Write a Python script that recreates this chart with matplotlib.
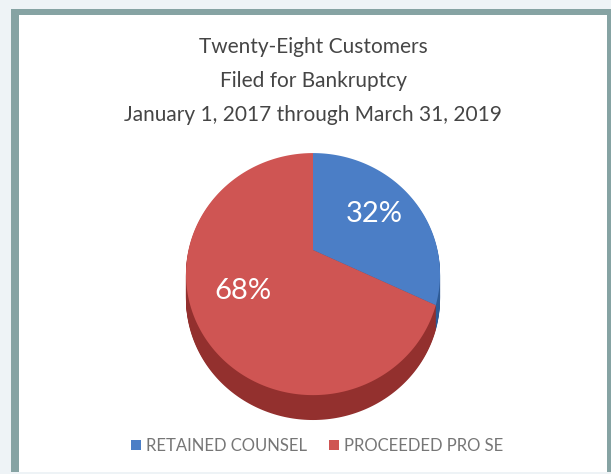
import numpy as np
import matplotlib.pyplot as plt
from matplotlib.patches import Rectangle
from matplotlib.path import Path
from matplotlib.transforms import Transform

# data: 28 customers split by representation
labels = ['RETAINED COUNSEL', 'PROCEEDED PRO SE']
counts = [9, 19]
colors = ['#4b7ec6', '#cf5553']
side_colors = ['#2e5b96', '#93302e']
title_lines = ['Twenty-Eight Customers', 'Filed for Bankruptcy',
               'January 1, 2017 through March 31, 2019']

W, H = 611, 474
plt.rcParams['font.family'] = ['Lato', 'DejaVu Sans']


class Tilt(Transform):
    """Perspective view of a flat disc, optionally pushed down by `drop`."""
    input_dims = output_dims = 2

    def __init__(self, drop=0.0, tilt=21, dist=1.8):
        super().__init__()
        self.drop = drop
        self.ca, self.sa = np.cos(np.radians(tilt)), np.sin(np.radians(tilt))
        self.dist = dist

    def transform_non_affine(self, values):
        values = np.asarray(values, dtype=float)
        x, y = values[:, 0], values[:, 1]
        f = self.dist / (self.dist + y * self.sa)
        return np.column_stack([x * f, y * self.ca * f - self.drop])

    def transform_path_non_affine(self, path):
        pts = [seg(np.linspace(0, 1, 30)) for seg, _ in path.iter_bezier()]
        verts = np.concatenate([p.reshape(-1, 2) for p in pts])
        return Path(self.transform_non_affine(verts), closed=True)


fig = plt.figure(figsize=(W / 100, H / 100), dpi=100)
fig.patch.set_facecolor('#eef3f6')

# teal frame and white panel
fig.patches.append(Rectangle((11 / W, 2 / H), 600 / W, 463 / H, transform=fig.transFigure,
                             facecolor='#86a3a3', edgecolor='none', zorder=-3))
fig.patches.append(Rectangle((19 / W, 2 / H), 588 / W, 457 / H, transform=fig.transFigure,
                             facecolor='white', edgecolor='none', zorder=-2))

# title
for i, line in enumerate(title_lines):
    fig.text(313 / W, 1 - (47 + 34 * i) / H, line, ha='center', va='center',
             fontsize=15, color='#454545')

# pie axes over the whole figure, 124.5 px per disc radius, vertex at (313, 250) px
k = 124.5
ax = fig.add_axes([0, 0, 1, 1])

depth = 0.2
n_layers = 26
for i in range(n_layers, 0, -1):
    side, _ = ax.pie(counts, colors=side_colors, startangle=90, counterclock=False,
                     wedgeprops=dict(linewidth=0))
    for w in side:
        w.set_transform(Tilt(drop=depth * i / n_layers) + ax.transData)

wedges, _, autotexts = ax.pie(counts, colors=colors, startangle=90, counterclock=False,
                              autopct='%1.0f%%', pctdistance=0.62,
                              wedgeprops=dict(linewidth=0))
for w in wedges:
    w.set_transform(Tilt() + ax.transData)
for t in autotexts:
    t.set_transform(Tilt() + ax.transData)
    t.set_color('white')
    t.set_fontsize(21)

ax.set_aspect('auto')
ax.set_xlim(-313 / k, (W - 313) / k)
ax.set_ylim(-(H - 250) / k, 250 / k)
ax.axis('off')

fig.legend(wedges, labels, loc='center', bbox_to_anchor=(317 / W, 1 - 446 / H),
           ncol=2, frameon=False, fontsize=12, labelcolor='#767676',
           handlelength=0.6, handleheight=0.6, handletextpad=0.3, columnspacing=1.3)

fig.savefig('out.png', dpi=100, facecolor=fig.get_facecolor())
